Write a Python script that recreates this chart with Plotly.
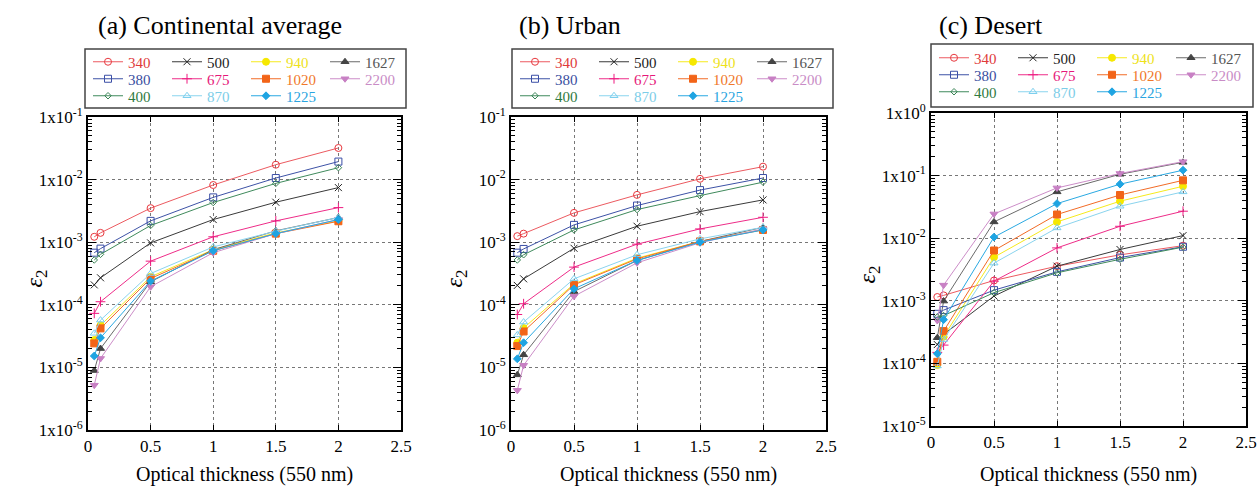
import plotly.graph_objects as go

W, H = 1258, 487

tau = [0.05, 0.1, 0.5, 1.0, 1.5, 2.0]

wavelengths = ["340", "380", "400", "500", "675", "870", "940", "1020", "1225", "1627", "2200"]

# (a) Continental average
cont_340 = [1.22e-3, 1.41e-3, 3.5e-3, 8.2e-3, 1.73e-2, 3.2e-2]
cont_380 = [6.8e-4, 7.9e-4, 2.19e-3, 5.2e-3, 1.06e-2, 1.94e-2]
cont_400 = [5.2e-4, 6.4e-4, 1.85e-3, 4.3e-3, 8.7e-3, 1.55e-2]
cont_500 = [2.08e-4, 2.7e-4, 9.75e-4, 2.3e-3, 4.35e-3, 7.45e-3]
cont_675 = [7.3e-5, 1.12e-4, 4.98e-4, 1.22e-3, 2.19e-3, 3.57e-3]
cont_870 = [3.5e-5, 5.7e-5, 3.16e-4, 8.4e-4, 1.5e-3, 2.48e-3]
cont_940 = [2.73e-5, 4.7e-5, 2.8e-4, 7.6e-4, 1.41e-3, 2.19e-3]
cont_1020 = [2.42e-5, 4.2e-5, 2.63e-4, 7.3e-4, 1.37e-3, 2.16e-3]
cont_1225 = [1.52e-5, 2.97e-5, 2.39e-4, 7.3e-4, 1.37e-3, 2.3e-3]
cont_1627 = [8.9e-6, 2.0e-5, 2.33e-4, 7.6e-4, 1.52e-3, 2.48e-3]
cont_2200 = [5.2e-6, 1.39e-5, 1.94e-4, 6.8e-4, 1.37e-3, 2.3e-3]

# (b) Urban
urb_340 = [1.25e-3, 1.37e-3, 2.94e-3, 5.7e-3, 1.03e-2, 1.61e-2]
urb_380 = [6.8e-4, 7.8e-4, 1.89e-3, 3.85e-3, 6.8e-3, 1.06e-2]
urb_400 = [5.2e-4, 6.3e-4, 1.57e-3, 3.32e-3, 5.55e-3, 9.1e-3]
urb_500 = [2.04e-4, 2.6e-4, 8.0e-4, 1.8e-3, 3.08e-3, 4.74e-3]
urb_675 = [7.0e-5, 1.04e-4, 4.0e-4, 9.3e-4, 1.63e-3, 2.5e-3]
urb_870 = [3.3e-5, 5.3e-5, 2.6e-4, 6.3e-4, 1.13e-3, 1.73e-3]
urb_940 = [2.48e-5, 4.25e-5, 2.16e-4, 5.56e-4, 1.03e-3, 1.59e-3]
urb_1020 = [2.19e-5, 3.75e-5, 2.08e-4, 5.4e-4, 1.03e-3, 1.57e-3]
urb_1225 = [1.37e-5, 2.48e-5, 1.8e-4, 5.1e-4, 1.0e-3, 1.57e-3]
urb_1627 = [7.6e-6, 1.59e-5, 1.63e-4, 5.1e-4, 1.03e-3, 1.73e-3]
urb_2200 = [4.3e-6, 1.08e-5, 1.37e-4, 4.68e-4, 9.8e-4, 1.63e-3]

# (c) Desert
des_340 = [1.15e-3, 1.22e-3, 2.11e-3, 3.57e-3, 5.42e-3, 7.6e-3]
des_380 = [6.2e-4, 7.1e-4, 1.48e-3, 2.9e-3, 4.9e-3, 7.3e-3]
des_400 = [5.5e-4, 5.8e-4, 1.35e-3, 2.8e-3, 4.6e-3, 7.2e-3]
des_500 = [2.0e-4, 2.9e-4, 1.19e-3, 3.57e-3, 6.6e-3, 1.1e-2]
des_675 = [1.5e-4, 1.96e-4, 2.06e-3, 7.0e-3, 1.55e-2, 2.7e-2]
des_870 = [9.1e-5, 2.4e-4, 4.0e-3, 1.46e-2, 3.24e-2, 5.5e-2]
des_940 = [9.4e-5, 2.67e-4, 4.97e-3, 1.82e-2, 3.9e-2, 6.76e-2]
des_1020 = [1.06e-4, 3.28e-4, 6.36e-3, 2.39e-2, 4.9e-2, 8.4e-2]
des_1225 = [1.43e-4, 5.0e-4, 1.04e-2, 3.57e-2, 7.3e-2, 0.122]
des_1627 = [2.57e-4, 9.9e-4, 1.82e-2, 5.5e-2, 0.105, 0.163]
des_2200 = [4.85e-4, 1.78e-3, 2.44e-2, 6.36e-2, 0.108, 0.167]

panels = [
    dict(title="(a) Continental average",
         data=[cont_340, cont_380, cont_400, cont_500, cont_675, cont_870,
               cont_940, cont_1020, cont_1225, cont_1627, cont_2200],
         yexp=[-6, -5, -4, -3, -2, -1], prefix="1x"),
    dict(title="(b) Urban",
         data=[urb_340, urb_380, urb_400, urb_500, urb_675, urb_870,
               urb_940, urb_1020, urb_1225, urb_1627, urb_2200],
         yexp=[-6, -5, -4, -3, -2, -1], prefix=""),
    dict(title="(c) Desert",
         data=[des_340, des_380, des_400, des_500, des_675, des_870,
               des_940, des_1020, des_1225, des_1627, des_2200],
         yexp=[-5, -4, -3, -2, -1, 0], prefix="1x"),
]

line_colors = {"340": "#ec5a60", "380": "#3d52a6", "400": "#3f8a5c", "500": "#3a3a3a",
               "675": "#ee2c88", "870": "#8ad4ee", "940": "#f6ea1c", "1020": "#f26b26",
               "1225": "#2aa9e2", "1627": "#6a6a6a", "2200": "#cc8dc8"}
marker_colors = {"340": "#e8383e", "380": "#3a4ea6", "400": "#3a8456", "500": "#222222",
                 "675": "#ee1a80", "870": "#7ccfee", "940": "#f6e800", "1020": "#f26418",
                 "1225": "#1ea4e2", "1627": "#444444", "2200": "#c880c4"}
text_colors = {"340": "#e03a3a", "380": "#3a4ea0", "400": "#2f7a3e", "500": "#222222",
               "675": "#e6197a", "870": "#7ccde8", "940": "#eee21a", "1020": "#f0782a",
               "1225": "#2aa4e0", "1627": "#555555", "2200": "#c98cc6"}
symbols = {"340": ("circle-open", 7), "380": ("square-open", 7), "400": ("diamond-open", 5),
           "500": ("x-thin-open", 7), "675": ("cross-thin-open", 7), "870": ("triangle-up-open", 7),
           "940": ("circle", 7), "1020": ("square", 7), "1225": ("diamond", 6),
           "1627": ("triangle-up", 7), "2200": ("triangle-down", 7)}

legend_rows = [["340", "500", "940", "1627"],
               ["380", "675", "1020", "2200"],
               ["400", "870", "1225"]]

# pixel geometry
plot_x = [(88, 401), (511, 826), (931, 1246)]
plot_y = [(117, 430), (117, 430), (113, 426)]
leg_box = [(85, 49, 406, 108), (512, 49, 833, 108), (931, 44, 1253, 107)]
leg_rows_y = [(62, 79, 96), (62, 79, 96), (58, 75, 92)]
leg_left = [88, 515, 934]
title_pos = [(96, 25), (517, 25), (937, 25)]
ytitle_x = [35, 455, 868]
xtitle_y = 474

def px(x):
    return x / W

def py(y):
    return 1 - y / H

SERIF = "Liberation Serif, Times New Roman, serif"

fig = go.Figure()
layout = dict(width=W, height=H, margin=dict(l=0, r=0, t=0, b=0, autoexpand=False),
              paper_bgcolor="white", plot_bgcolor="white",
              font=dict(family=SERIF, color="black"), shapes=[], annotations=[])

for p, panel in enumerate(panels):
    ax = "" if p == 0 else str(p + 1)
    for r, row in enumerate(legend_rows):
        leg_id = "legend" if (p == 0 and r == 0) else "legend%d" % (p * 3 + r + 1)
        for w in row:
            i = wavelengths.index(w)
            sym, size = symbols[w]
            fig.add_trace(go.Scatter(
                x=tau, y=panel["data"][i], mode="lines+markers",
                name="<span style='color:%s'>%s</span>" % (text_colors[w], w),
                line=dict(color=line_colors[w], width=1),
                marker=dict(symbol=sym, size=size, color=marker_colors[w],
                            line=dict(color=marker_colors[w], width=1)),
                xaxis="x" + ax, yaxis="y" + ax, legend=leg_id, showlegend=True))
        layout[leg_id] = dict(
            orientation="h", x=px(leg_left[p]), xanchor="left",
            y=py(leg_rows_y[p][r]), yanchor="middle",
            entrywidth=34, entrywidthmode="pixels", itemwidth=30,
            bgcolor="rgba(0,0,0,0)", borderwidth=0,
            font=dict(family=SERIF, size=15), tracegroupgap=0)

    y0, y1 = plot_y[p]
    layout["xaxis" + ax] = dict(
        domain=[px(plot_x[p][0]), px(plot_x[p][1])], anchor="y" + ax,
        range=[0, 2.5], dtick=0.5, tick0=0,
        showline=True, linecolor="black", linewidth=2, mirror="allticks",
        ticks="inside", ticklen=5, tickcolor="black",
        showgrid=True, gridcolor="#777777", griddash="dot", gridwidth=1,
        tickfont=dict(family=SERIF, size=17), zeroline=False)
    exps = panel["yexp"]
    layout["yaxis" + ax] = dict(
        domain=[py(y1), py(y0)], anchor="x" + ax, type="log",
        range=[exps[0], exps[-1]],
        tickvals=[10.0 ** e for e in exps],
        ticktext=["%s10<sup>%d</sup>" % (panel["prefix"], e) for e in exps],
        showline=True, linecolor="black", linewidth=2, mirror="allticks",
        ticks="inside", ticklen=8, tickcolor="black",
        minor=dict(ticks="inside", ticklen=4, tickcolor="black", dtick="D1", showgrid=False),
        showgrid=True, gridcolor="#777777", griddash="dot", gridwidth=1,
        tickfont=dict(family=SERIF, size=17), zeroline=False)

    bx0, by0, bx1, by1 = leg_box[p]
    layout["shapes"].append(dict(type="rect", xref="paper", yref="paper",
                                 x0=px(bx0), x1=px(bx1), y0=py(by1), y1=py(by0),
                                 line=dict(color="#444444", width=1.5), fillcolor="rgba(0,0,0,0)"))
    tx, ty = title_pos[p]
    layout["annotations"].append(dict(text=panel["title"], xref="paper", yref="paper",
                                      x=px(tx), y=py(ty), xanchor="left", yanchor="middle",
                                      showarrow=False, font=dict(family=SERIF, size=26)))
    layout["annotations"].append(dict(text="<i>ε</i><sub>2</sub>", xref="paper", yref="paper",
                                      x=px(ytitle_x[p]), y=py((y0 + y1) / 2 + 5), xanchor="center",
                                      yanchor="middle", textangle=-90, showarrow=False,
                                      font=dict(family=SERIF, size=24)))
    layout["annotations"].append(dict(text="Optical thickness (550 nm)", xref="paper", yref="paper",
                                      x=px((plot_x[p][0] + plot_x[p][1]) / 2), y=py(xtitle_y),
                                      xanchor="center", yanchor="middle", showarrow=False,
                                      font=dict(family=SERIF, size=20)))

fig.update_layout(**layout)
fig.write_html("out.html")
